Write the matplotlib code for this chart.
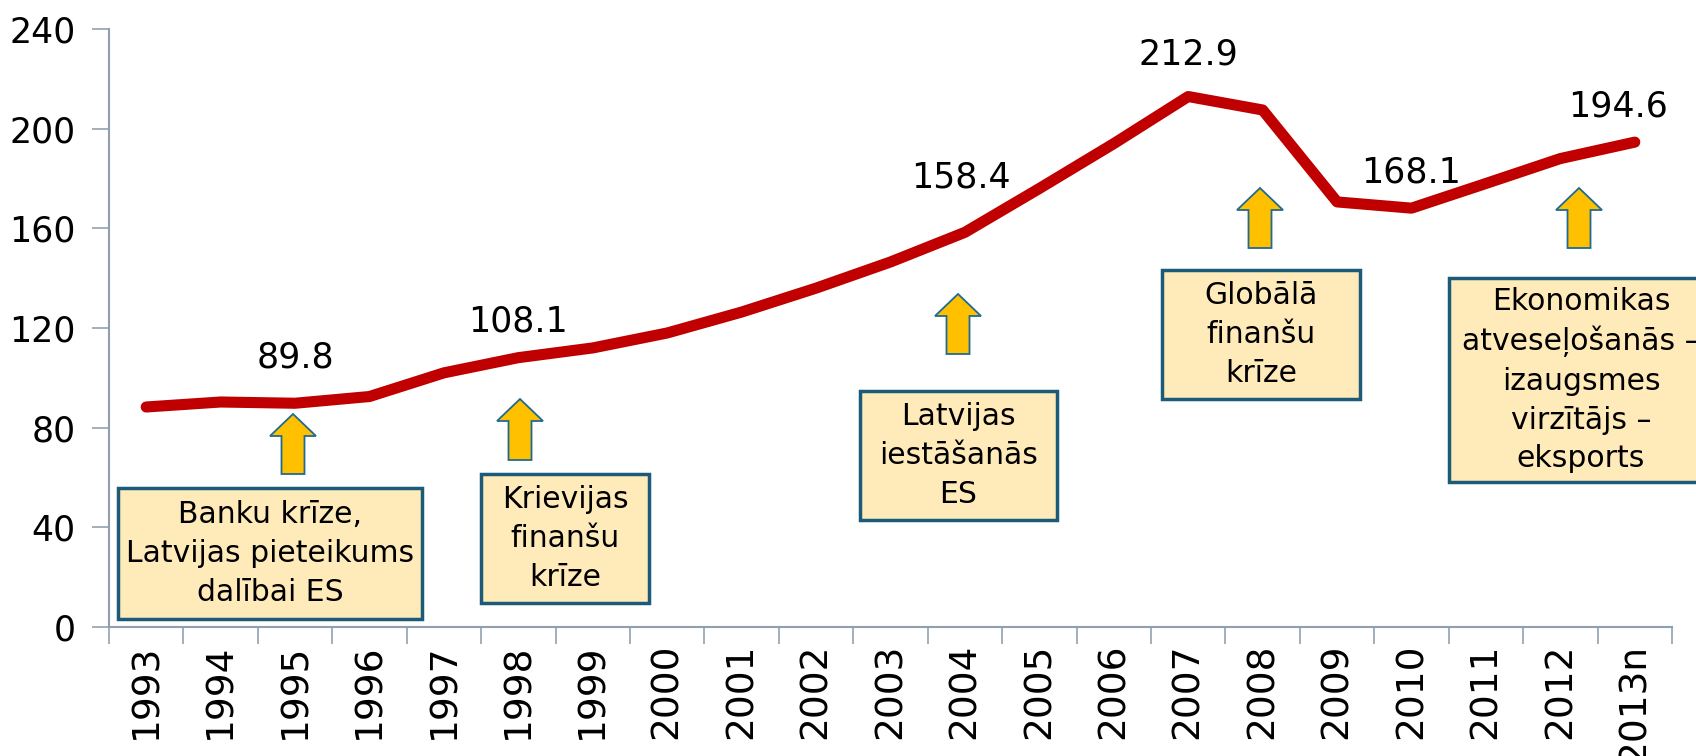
import matplotlib
matplotlib.use('Agg')
import matplotlib.pyplot as plt
from matplotlib.patches import Rectangle, Polygon

# ---- data ----
years = ['1993', '1994', '1995', '1996', '1997', '1998', '1999', '2000', '2001',
         '2002', '2003', '2004', '2005', '2006', '2007', '2008', '2009', '2010',
         '2011', '2012', '2013n']
values = [88.3, 90.3, 89.8, 92.5, 102.0, 108.1, 112.0, 118.0, 126.4, 136.0,
          146.5, 158.4, 176.0, 194.0, 212.9, 207.5, 170.6, 168.1, 178.0, 188.0, 194.6]
labeled_years = ['1995', '1998', '2004', '2007', '2010', '2013n']
yticks = [0, 40, 80, 120, 160, 200, 240]

notes = ['Banku krīze,\nLatvijas pieteikums\ndalībai ES',
         'Krievijas\nfinanšu\nkrīze',
         'Latvijas\niestāšanās\nES',
         'Globālā\nfinanšu\nkrīze',
         'Ekonomikas\natveseļošanās –\nizaugsmes\nvirzītājs –\neksports']

# ---- layout (pixels, origin top-left of 1696x756 figure) ----
W, H = 1696, 756
label_offsets = [(0, 46), (0, 36), (-4, 55), (0, 42), (0, 36), (-17, 36)]  # px
boxes = [(118, 488, 422, 619), (481, 474, 649, 603), (860, 391, 1057, 520),
         (1162, 270, 1360, 399), (1449, 278, 1713, 482)]
arrows = [(293, 414, 474), (520, 399, 460), (958, 294, 354),
          (1260, 188, 248), (1579, 188, 248)]  # x, tip y, bottom y

plt.rcParams['font.family'] = ['DejaVu Sans']

fig = plt.figure(figsize=(W / 100, H / 100), dpi=100)
ax = fig.add_axes([109 / W, 1 - 627 / H, (1672 - 109) / W, (627 - 29) / H])

x = list(range(len(years)))
ax.plot(x, values, color='#C00000', lw=8, solid_capstyle='round',
        solid_joinstyle='round', zorder=3, clip_on=False)

ax.set_xlim(-0.5, len(years) - 0.5)
ax.set_ylim(0, 240)
ax.set_yticks(yticks)
ax.set_yticklabels([str(v) for v in yticks], fontsize=25)
ax.set_xticks(x)
ax.set_xticklabels(years, rotation=90, fontsize=27, va='top')
ax.set_xticks([i - 0.5 for i in range(len(years) + 1)], minor=True)
ax.tick_params(axis='x', which='major', length=0, pad=12)
ax.tick_params(axis='x', which='minor', length=12, width=1.3, color='#9AA8B6')
ax.tick_params(axis='y', length=12, width=1.3, color='#9AA8B6', pad=12)
for s in ['top', 'right']:
    ax.spines[s].set_visible(False)
for s in ['left', 'bottom']:
    ax.spines[s].set_color('#8E9FAF')
    ax.spines[s].set_linewidth(1.5)

for yr, (dx, dy) in zip(labeled_years, label_offsets):
    i = years.index(yr)
    ax.annotate(f'{values[i]:.1f}', (i, values[i]), xytext=(dx * 0.72, dy * 0.72),
                textcoords='offset points', ha='center', va='center',
                fontsize=25, color='black', zorder=5)

def fx(px):
    return px / W

def fy(py):
    return 1 - py / H

for (x0, y0, x1, y1), txt in zip(boxes, notes):
    rect = Rectangle((fx(x0), fy(y1)), fx(x1) - fx(x0), fy(y0) - fy(y1),
                     transform=fig.transFigure, facecolor='#FFEBB9',
                     edgecolor='#1B5A78', linewidth=2.5, zorder=4)
    fig.patches.append(rect)
    fig.text(fx((x0 + x1) / 2), fy((y0 + y1) / 2), txt, ha='center', va='center',
             fontsize=21.5, linespacing=1.42, color='black', zorder=5)

hw, sw, hl = 23, 11.5, 22
for cx, tip, bot in arrows:
    pts = [(cx, tip), (cx + hw, tip + hl), (cx + sw, tip + hl), (cx + sw, bot),
           (cx - sw, bot), (cx - sw, tip + hl), (cx - hw, tip + hl)]
    poly = Polygon([(fx(a), fy(b)) for a, b in pts], closed=True,
                   transform=fig.transFigure, facecolor='#FFC000',
                   edgecolor='#1F6A93', linewidth=1.3, zorder=4)
    fig.patches.append(poly)

fig.savefig('out.png', dpi=100)
